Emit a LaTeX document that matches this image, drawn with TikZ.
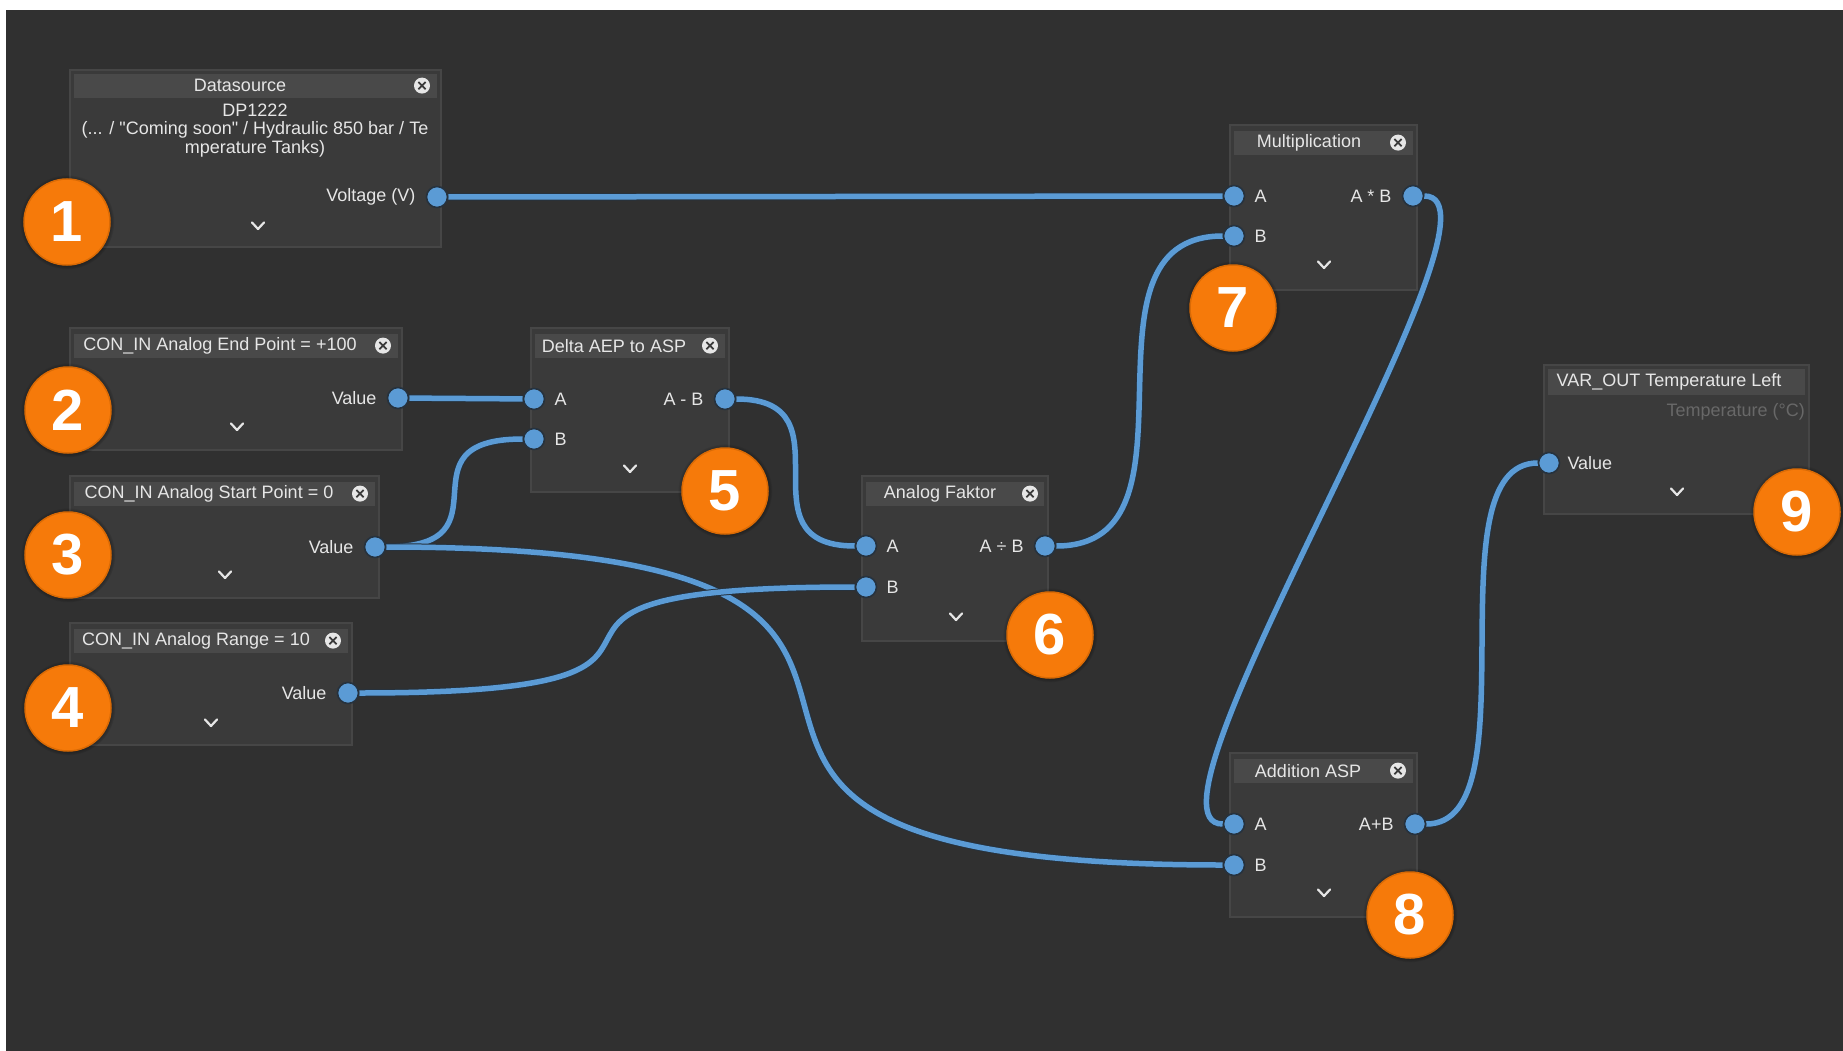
\documentclass[tikz,border=0pt]{standalone}
\usepackage{fontspec}
\setmainfont{Liberation Sans}[Ligatures=TeXOff]
\usetikzlibrary{positioning,shadows,fadings}

\definecolor{bgdark}{HTML}{303030}
\definecolor{boxbody}{HTML}{3A3A3A}
\definecolor{boxedge}{HTML}{464646}
\definecolor{barfill}{HTML}{494949}
\definecolor{wireblue}{HTML}{5B9BD5}
\definecolor{portedge}{HTML}{26323E}
\definecolor{badgeorange}{HTML}{F67A0A}
\definecolor{badgerim}{HTML}{D96A05}
\definecolor{labeltext}{HTML}{E6E6E6}
\definecolor{dimtext}{HTML}{686868}

\pgfdeclarelayer{background}
\pgfdeclarelayer{wirelayer}
\pgfsetlayers{background,wirelayer,main}

\begin{document}
\begin{tikzpicture}[
  x=1pt,y=-1pt,
  font=\fontsize{18}{21}\selectfont,
  flowbox/.style={draw=boxedge,fill=boxbody,line width=1.2pt,inner sep=0pt},
  titlebar/.style={fill=barfill,inner sep=0pt,minimum height=24pt},
  titletext/.style={text=labeltext,inner sep=0pt},
  portlabel/.style={text=labeltext,inner sep=0pt},
  portdot/.style={circle,fill=wireblue,draw=portedge,line width=1.6pt,minimum size=21pt,inner sep=0pt},
  wire/.style={draw=wireblue,line width=5.5pt,preaction={draw=portedge,line width=7.5pt}},
  closeicon/.style={circle,fill=labeltext,minimum size=16pt,inner sep=0pt,
    path picture={\draw[boxbody,line width=1.7pt]
      ([shift={(-3.6pt,-3.6pt)}]path picture bounding box.center) -- ([shift={(3.6pt,3.6pt)}]path picture bounding box.center)
      ([shift={(-3.6pt,3.6pt)}]path picture bounding box.center) -- ([shift={(3.6pt,-3.6pt)}]path picture bounding box.center);}},
  badge/.style={circle,fill=badgeorange,draw=badgerim,line width=1.5pt,minimum size=86pt,inner sep=0pt,
    text=white,font=\fontsize{58}{58}\selectfont\bfseries,
    circular glow={fill=black,opacity=.5,shadow scale=1.1}},
  chevron/.pic={\draw[labeltext,line width=2.2pt,line cap=round,line join=round] (-6,-3.5) -- (0,3) -- (6,-3.5);}
]
\useasboundingbox (0,0) rectangle (1843,1051);

% ---- canvas and node boxes ----
\begin{pgfonlayer}{background}
  \fill[white] (0,0) rectangle (1843,1051);
  \fill[bgdark] (6,10) rectangle (1843,1051);

  \node[flowbox,minimum width=371pt,minimum height=177pt] (ds) at (255.5,158.5) {};
  \node[flowbox,minimum width=332pt,minimum height=122pt] (cend) at (236,389) {};
  \node[flowbox,minimum width=309pt,minimum height=122pt] (cstart) at (224.5,537) {};
  \node[flowbox,minimum width=282pt,minimum height=122pt] (crange) at (211,684) {};
  \node[flowbox,minimum width=198pt,minimum height=164pt] (delta) at (630,410) {};
  \node[flowbox,minimum width=186pt,minimum height=165pt] (fak) at (955,558.5) {};
  \node[flowbox,minimum width=187pt,minimum height=165pt] (mul) at (1323.5,207.5) {};
  \node[flowbox,minimum width=187pt,minimum height=164pt] (add) at (1323.5,835) {};
  \node[flowbox,minimum width=265pt,minimum height=149pt] (vout) at (1676.5,439.5) {};

  \node[titlebar,minimum width=363pt,below=4pt of ds.north] (dsbar) {};
  \node[titlebar,minimum width=324pt,below=6pt of cend.north] (cendbar) {};
  \node[titlebar,minimum width=301pt,below=6pt of cstart.north] (cstartbar) {};
  \node[titlebar,minimum width=274pt,below=6pt of crange.north] (crangebar) {};
  \node[titlebar,minimum width=190pt,below=6pt of delta.north] (deltabar) {};
  \node[titlebar,minimum width=178pt,below=6pt of fak.north] (fakbar) {};
  \node[titlebar,minimum width=179pt,below=6pt of mul.north] (mulbar) {};
  \node[titlebar,minimum width=179pt,below=6pt of add.north] (addbar) {};
  \node[titlebar,minimum width=257pt,minimum height=26pt,below=4pt of vout.north] (voutbar) {};
\end{pgfonlayer}

% ---- titles ----
\node[titletext] (dstitle) at (240,0 |- dsbar) {Datasource};
\node[closeicon] (dsclose) at (422,0 |- dsbar) {};
\node[titletext] (cendtitle) at (220,0 |- cendbar) {CON\_IN Analog End Point = +100};
\node[closeicon] (cendclose) at (383,0 |- cendbar) {};
\node[titletext] (cstarttitle) at (209,0 |- cstartbar) {CON\_IN Analog Start Point = 0};
\node[closeicon] (cstartclose) at (360,0 |- cstartbar) {};
\node[titletext] (crangetitle) at (196,0 |- crangebar) {CON\_IN Analog Range = 10};
\node[closeicon] (crangeclose) at (333,0 |- crangebar) {};
\node[titletext] (deltatitle) at (614,0 |- deltabar) {Delta AEP to ASP};
\node[closeicon] (deltaclose) at (710,0 |- deltabar) {};
\node[titletext] (faktitle) at (940,0 |- fakbar) {Analog Faktor};
\node[closeicon] (fakclose) at (1030,0 |- fakbar) {};
\node[titletext] (multitle) at (1309,0 |- mulbar) {Multiplication};
\node[closeicon] (mulclose) at (1398,0 |- mulbar) {};
\node[titletext] (addtitle) at (1308,0 |- addbar) {Addition ASP};
\node[closeicon] (addclose) at (1398,0 |- addbar) {};
\node[titletext] (vouttitle) at (1669,0 |- voutbar) {VAR\_OUT Temperature Left};

\node[titletext,align=center,font=\fontsize{18}{18.5}\selectfont] (dsinfo) at (255,130.5)
  {DP1222\\(... / "Coming soon" / Hydraulic 850 bar / Te\\mperature Tanks)};
\node[portlabel,text=dimtext,anchor=east] (voutunit) at (1805,412) {Temperature (°C)};

% ---- ports ----
\node[portdot] (dsout) at (437,197) {};
\node[portdot] (cendout) at (398,398) {};
\node[portdot] (cstartout) at (375,547) {};
\node[portdot] (crangeout) at (348,693) {};
\node[portdot] (deltaA) at (534,399) {};
\node[portdot] (deltaB) at (534,439) {};
\node[portdot] (deltaout) at (725,399) {};
\node[portdot] (fakA) at (866,546) {};
\node[portdot] (fakB) at (866,587) {};
\node[portdot] (fakout) at (1045,546) {};
\node[portdot] (mulA) at (1234,196) {};
\node[portdot] (mulB) at (1234,236) {};
\node[portdot] (mulout) at (1413,196) {};
\node[portdot] (addA) at (1234,824) {};
\node[portdot] (addB) at (1234,865) {};
\node[portdot] (addout) at (1415,824) {};
\node[portdot] (voutin) at (1549,463) {};

\node[portlabel,left=10pt of dsout] (dsoutlbl) {Voltage (V)};
\node[portlabel,left=10pt of cendout] (cendoutlbl) {Value};
\node[portlabel,left=10pt of cstartout] (cstartoutlbl) {Value};
\node[portlabel,left=10pt of crangeout] (crangeoutlbl) {Value};
\node[portlabel,right=9pt of deltaA] (deltaAlbl) {A};
\node[portlabel,right=9pt of deltaB] (deltaBlbl) {B};
\node[portlabel,left=10pt of deltaout] (deltaoutlbl) {A - B};
\node[portlabel,right=9pt of fakA] (fakAlbl) {A};
\node[portlabel,right=9pt of fakB] (fakBlbl) {B};
\node[portlabel,left=10pt of fakout] (fakoutlbl) {A ÷ B};
\node[portlabel,right=9pt of mulA] (mulAlbl) {A};
\node[portlabel,right=9pt of mulB] (mulBlbl) {B};
\node[portlabel,left=10pt of mulout] (muloutlbl) {A * B};
\node[portlabel,right=9pt of addA] (addAlbl) {A};
\node[portlabel,right=9pt of addB] (addBlbl) {B};
\node[portlabel,left=10pt of addout] (addoutlbl) {A+B};
\node[portlabel,right=7pt of voutin] (voutinlbl) {Value};

% ---- collapse chevrons ----
\pic at (258,226) {chevron};
\pic at (237,427) {chevron};
\pic at (225,575) {chevron};
\pic at (211,723) {chevron};
\pic at (630,469) {chevron};
\pic at (956,617) {chevron};
\pic at (1324,265) {chevron};
\pic at (1324,893) {chevron};
\pic at (1677,492) {chevron};

% ---- wires ----
\begin{pgfonlayer}{wirelayer}
  \draw[wire] (dsout) -- (mulA);
  \draw[wire] (cendout) -- (deltaA);
  \draw[wire] (cstartout) .. controls +(140,0) and +(-140,0) .. (deltaB);
  \draw[wire] (cstartout) .. controls +(760,0) and +(-760,0) .. (addB);
  \draw[wire] (crangeout) .. controls +(450,0) and +(-450,0) .. (fakB);
  \draw[wire] (deltaout) .. controls +(130,0) and +(-130,0) .. (fakA);
  \draw[wire] (fakout) .. controls +(170,0) and +(-170,0) .. (mulB);
  \draw[wire] (mulout) .. controls +(112,0) and +(-112,0) .. (addA);
  \draw[wire] (addout) .. controls +(120,0) and +(-120,0) .. (voutin);
\end{pgfonlayer}

% ---- step badges ----
\node[badge] (b1) at (67,222) {1};
\node[badge] (b2) at (68,410) {2};
\node[badge] (b3) at (68,555) {3};
\node[badge] (b4) at (68,708) {4};
\node[badge] (b5) at (725,491) {5};
\node[badge] (b6) at (1050,635) {6};
\node[badge] (b7) at (1233,308) {7};
\node[badge] (b8) at (1410,915) {8};
\node[badge] (b9) at (1797,512) {9};

\end{tikzpicture}
\end{document}
